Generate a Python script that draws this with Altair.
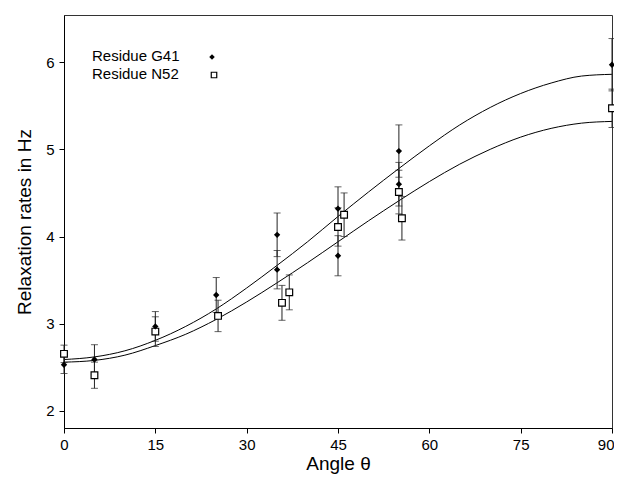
import altair as alt
import pandas as pd

# --- data ---
g41_theta = [0, 5, 15, 25, 35, 35, 45, 45, 55, 55, 90]
g41_rate = [2.53, 2.59, 2.97, 3.33, 4.02, 3.62, 4.32, 3.78, 4.98, 4.60, 5.97]
g41_err = [0.10, 0.17, 0.17, 0.20, 0.25, 0.22, 0.25, 0.23, 0.30, 0.25, 0.30]

n52_theta = [0, 5, 15, 25.3, 35.8, 37, 45, 46, 55, 55.5, 90]
n52_rate = [2.655, 2.41, 2.91, 3.09, 3.24, 3.36, 4.11, 4.25, 4.51, 4.21, 5.47]
n52_err = [0.10, 0.15, 0.17, 0.18, 0.20, 0.20, 0.22, 0.25, 0.25, 0.25, 0.22]

curve_theta = [0, 5, 10, 15, 20, 25, 30, 35, 40, 45, 50, 55, 60, 65, 70, 75, 80, 85, 90]
g41_curve = [2.59, 2.62, 2.69, 2.81, 2.97, 3.17, 3.41, 3.67, 3.94, 4.23, 4.51, 4.78,
             5.04, 5.28, 5.48, 5.64, 5.76, 5.84, 5.86]
n52_curve = [2.56, 2.58, 2.64, 2.75, 2.88, 3.05, 3.25, 3.47, 3.70, 3.94, 4.18, 4.41,
             4.63, 4.83, 5.00, 5.14, 5.24, 5.30, 5.32]

x_ticks = [0, 15, 30, 45, 60, 75, 90]
y_ticks = [2, 3, 4, 5, 6]
legend_labels = ["Residue G41", "Residue N52"]

FONT = "Liberation Sans"

pts = pd.DataFrame({
    "theta": g41_theta + n52_theta,
    "rate": g41_rate + n52_rate,
    "err": g41_err + n52_err,
    "series": ["G41"] * len(g41_theta) + ["N52"] * len(n52_theta),
})
pts["lo"] = pts["rate"] - pts["err"]
pts["hi"] = pts["rate"] + pts["err"]

curves = pd.DataFrame({
    "theta": curve_theta + curve_theta,
    "rate": g41_curve + n52_curve,
    "series": ["G41"] * len(curve_theta) + ["N52"] * len(curve_theta),
})

xscale = alt.Scale(domain=[0, 90], nice=False, zero=False)
yscale = alt.Scale(domain=[1.805, 6.54], nice=False, zero=False)

xaxis = alt.Axis(values=x_ticks, title="Angle θ", grid=False, tickSize=5,
                 labelFontSize=15, titleFontSize=19, titleFontWeight="normal",
                 labelFont=FONT, titleFont=FONT, labelColor="black", titleColor="black",
                 domainColor="black", tickColor="black", labelPadding=4, titlePadding=2,
                 labelFlush=False,
                 labelAlign={"condition": {"test": "datum.value == 90", "value": "right"},
                             "value": "center"},
                 labelOffset={"condition": {"test": "datum.value == 90", "value": 2},
                              "value": 0})
yaxis = alt.Axis(values=y_ticks, title="Relaxation rates in Hz", grid=False, tickSize=5,
                 labelFontSize=15, titleFontSize=19, titleFontWeight="normal",
                 labelFont=FONT, titleFont=FONT, labelColor="black", titleColor="black",
                 domainColor="black", tickColor="black", labelPadding=5, titlePadding=11,
                 labelFlush=False)


def X(field):
    return alt.X(field, scale=xscale, axis=xaxis)


def Y(field):
    return alt.Y(field, scale=yscale, axis=yaxis)


lines = alt.Chart(curves).mark_line(color="black", strokeWidth=1, interpolate="monotone").encode(
    x=X("theta:Q"), y=Y("rate:Q"), detail="series:N")

stems = alt.Chart(pts).mark_rule(color="#222", strokeWidth=1).encode(
    x=X("theta:Q"), y=Y("lo:Q"), y2="hi:Q")
caps_lo = alt.Chart(pts).mark_tick(color="#222", thickness=1, size=7, orient="horizontal").encode(
    x=X("theta:Q"), y=Y("lo:Q"))
caps_hi = alt.Chart(pts).mark_tick(color="#222", thickness=1, size=7, orient="horizontal").encode(
    x=X("theta:Q"), y=Y("hi:Q"))

g41_pts = alt.Chart(pts[pts.series == "G41"]).mark_point(
    shape="diamond", filled=True, color="black", size=40, opacity=1).encode(
    x=X("theta:Q"), y=Y("rate:Q"))
n52_pts = alt.Chart(pts[pts.series == "N52"]).mark_point(
    shape="square", filled=True, fill="white", stroke="black", strokeWidth=1.2,
    size=45, opacity=1).encode(
    x=X("theta:Q"), y=Y("rate:Q"))

leg_df = pd.DataFrame({"label": legend_labels})
leg_g_text = alt.Chart(leg_df[leg_df.label == legend_labels[0]]).mark_text(
    align="left", baseline="middle", font=FONT, fontSize=15, color="black").encode(
    text="label:N", x=alt.value(28), y=alt.value(41))
leg_n_text = alt.Chart(leg_df[leg_df.label == legend_labels[1]]).mark_text(
    align="left", baseline="middle", font=FONT, fontSize=15, color="black").encode(
    text="label:N", x=alt.value(28), y=alt.value(59))
leg_g = alt.Chart(leg_df[leg_df.label == legend_labels[0]]).mark_point(
    shape="diamond", filled=True, color="black", size=30, opacity=1).encode(
    x=alt.value(148), y=alt.value(42))
leg_n = alt.Chart(leg_df[leg_df.label == legend_labels[1]]).mark_point(
    shape="square", filled=True, fill="white", stroke="black", strokeWidth=1.2,
    size=30, opacity=1).encode(
    x=alt.value(150), y=alt.value(60))

chart = alt.layer(lines, stems, caps_lo, caps_hi, n52_pts, g41_pts,
                  leg_g_text, leg_n_text, leg_g, leg_n).properties(
    width=548, height=413,
    autosize=alt.AutoSizeParams(type="none"),
    padding={"left": 56, "top": 7, "right": 2, "bottom": 48},
    background="white",
).configure_view(stroke="#333", strokeWidth=1)

chart.save("out.html", embed_options={"renderer": "svg", "actions": False})
